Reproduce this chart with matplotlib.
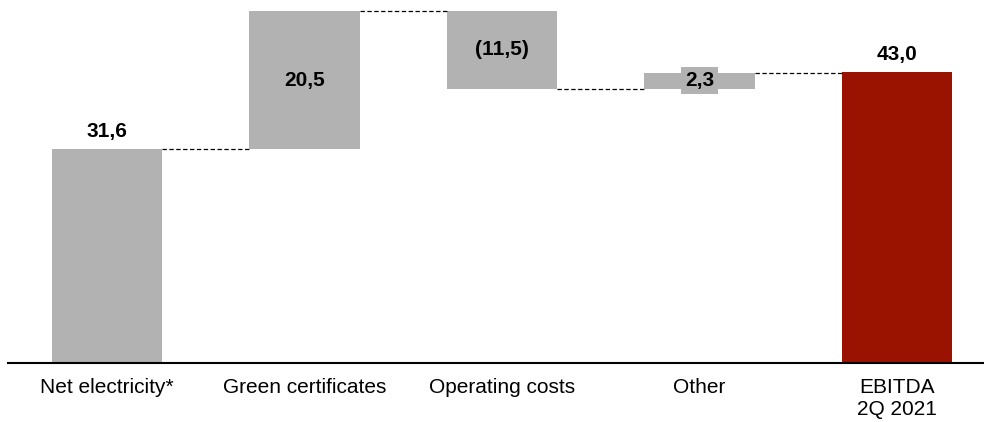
import numpy as np
import matplotlib.pyplot as plt

plt.rcParams['font.family'] = ['Liberation Sans', 'DejaVu Sans']

# waterfall data (EUR m)
categories = ['Net electricity*', 'Green certificates', 'Operating costs', 'Other', 'EBITDA\n2Q 2021']
values = [31.6, 20.5, -11.5, 2.3, 43.0]
is_total = [False, False, False, False, True]

gray = '#b2b2b2'
red = '#9a1200'

x = np.arange(len(categories))
width = 0.56

# running totals for floating bars
bottoms = []
tops = []
running = 0.0
for v, tot in zip(values, is_total):
    if tot:
        bottoms.append(0.0)
        tops.append(v)
        running = v
    else:
        bottoms.append(running)
        running = running + v
        tops.append(running)

fig = plt.figure(figsize=(9.84, 4.22), dpi=100)
ax = fig.add_axes([8 / 984, 59 / 422, 976 / 984, 363 / 422])

for i, v in enumerate(values):
    lo = min(bottoms[i], tops[i])
    h = abs(tops[i] - bottoms[i])
    color = red if is_total[i] else gray
    ax.bar(x[i], h, bottom=lo, width=width, color=color, edgecolor='none')

# dashed connectors between bars
for i in range(len(values) - 1):
    level = tops[i]
    ax.plot([x[i] + width / 2, x[i + 1] - width / 2], [level, level],
            color='black', linestyle=(0, (3.5, 2)), linewidth=0.9)

# value labels
def fmt(v):
    s = f'{abs(v):.1f}'.replace('.', ',')
    return f'({s})' if v < 0 else s

for i, v in enumerate(values):
    if i == 0 or is_total[i]:
        ax.text(x[i], tops[i] + 1.2, fmt(v), ha='center', va='bottom',
                fontsize=15, fontweight='bold')
    elif abs(v) < 5:
        ax.text(x[i], (bottoms[i] + tops[i]) / 2, fmt(v), ha='center', va='center',
                fontsize=15, fontweight='bold',
                bbox=dict(facecolor=gray, edgecolor='none', pad=3))
    else:
        ax.text(x[i], (bottoms[i] + tops[i]) / 2, fmt(v), ha='center', va='center',
                fontsize=15, fontweight='bold')

ax.set_xlim(-0.502, 4.44)
ax.set_ylim(0, 53.7)
ax.set_xticks(x)
ax.set_xticklabels(categories, fontsize=15)
ax.tick_params(axis='x', length=0, pad=11)
ax.set_yticks([])
for side in ['top', 'right', 'left']:
    ax.spines[side].set_visible(False)
ax.spines['bottom'].set_linewidth(1.5)

fig.savefig('out.png', dpi=100)
